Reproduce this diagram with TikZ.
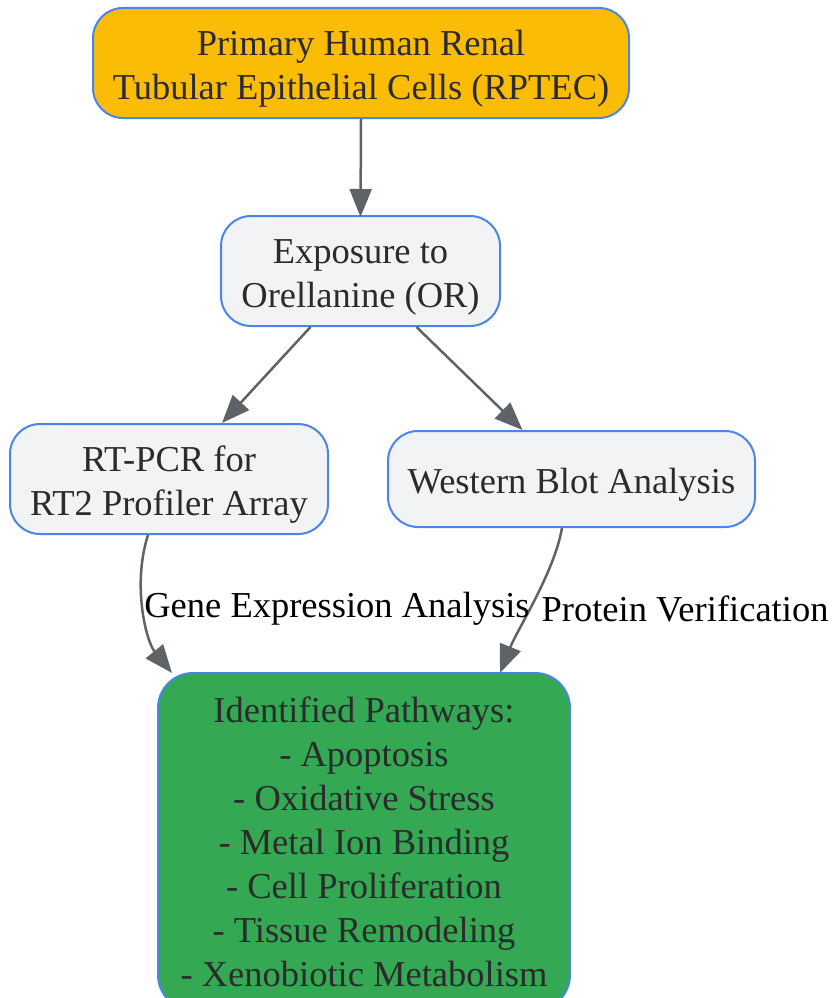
\documentclass[tikz,border=0pt]{standalone}
\usepackage{fontspec}
\setmainfont{Liberation Serif}
\usetikzlibrary{arrows.meta}
\definecolor{bordblue}{HTML}{4A86E8}
\definecolor{boxgray}{HTML}{F1F3F5}
\definecolor{topyellow}{HTML}{FBBC05}
\definecolor{botgreen}{HTML}{34A853}
\definecolor{arrgray}{HTML}{5F6368}
\definecolor{txt}{HTML}{2B2B2B}
\newcommand{\nudge}{\rule{0pt}{37pt}}
\tikzset{
  box/.style={draw=bordblue, line width=2pt, rounded corners=30pt, align=center,
    text=txt, inner sep=0pt, font=\fontsize{36.5}{44}\selectfont},
  arr/.style={draw=arrgray, line width=2.5pt, -{Triangle[length=28pt,width=22pt]}},
  lab/.style={text=black, inner sep=0pt, font=\fontsize{36.5}{44}\selectfont}
}
\begin{document}
\begin{tikzpicture}[x=1pt,y=-1pt]
\useasboundingbox (0,0) rectangle (834,998);
\node[box, fill=topyellow, minimum width=536pt, minimum height=110pt] (A) at (361,63)
  {\nudge Primary Human Renal\\Tubular Epithelial Cells (RPTEC)};
\node[box, fill=boxgray, minimum width=279pt, minimum height=110pt] (B) at (360.5,271)
  {\nudge Exposure to\\Orellanine (OR)};
\node[box, fill=boxgray, minimum width=318pt, minimum height=110pt] (C) at (169,479)
  {\nudge RT-PCR for\\RT2 Profiler Array};
\node[box, fill=boxgray, minimum width=367pt, minimum height=96pt] (D) at (571.5,479)
  {\nudge Western Blot Analysis};
\node[box, fill=botgreen, rounded corners=35pt, minimum width=412pt, minimum height=337pt] (E) at (364,841.5)
  {Identified Pathways:\\- Apoptosis\\- Oxidative Stress\\- Metal Ion Binding\\- Cell Proliferation\\- Tissue Remodeling\\- Xenobiotic Metabolism};
\draw[arr] (A.south) -- ([yshift=-2pt]B.north);
\draw[arr] ([xshift=-50pt]B.south) -- ([xshift=53pt]C.north);
\draw[arr] ([xshift=56pt]B.south) -- ([xshift=-49pt]D.north);
\draw[arr] ([xshift=-21pt]C.south) .. controls +(-16,50) and +(-26,-32) .. ([xshift=-192pt,yshift=-1pt]E.north);
\draw[arr] ([xshift=-9.5pt]D.south) .. controls +(-8,45) and +(18,-45) .. ([xshift=136pt,yshift=-1pt]E.north);
\node[lab] (L1) at (337,609) {Gene Expression Analysis};
\node[lab] (L2) at (685,609) {Protein Verification};
\end{tikzpicture}
\end{document}
